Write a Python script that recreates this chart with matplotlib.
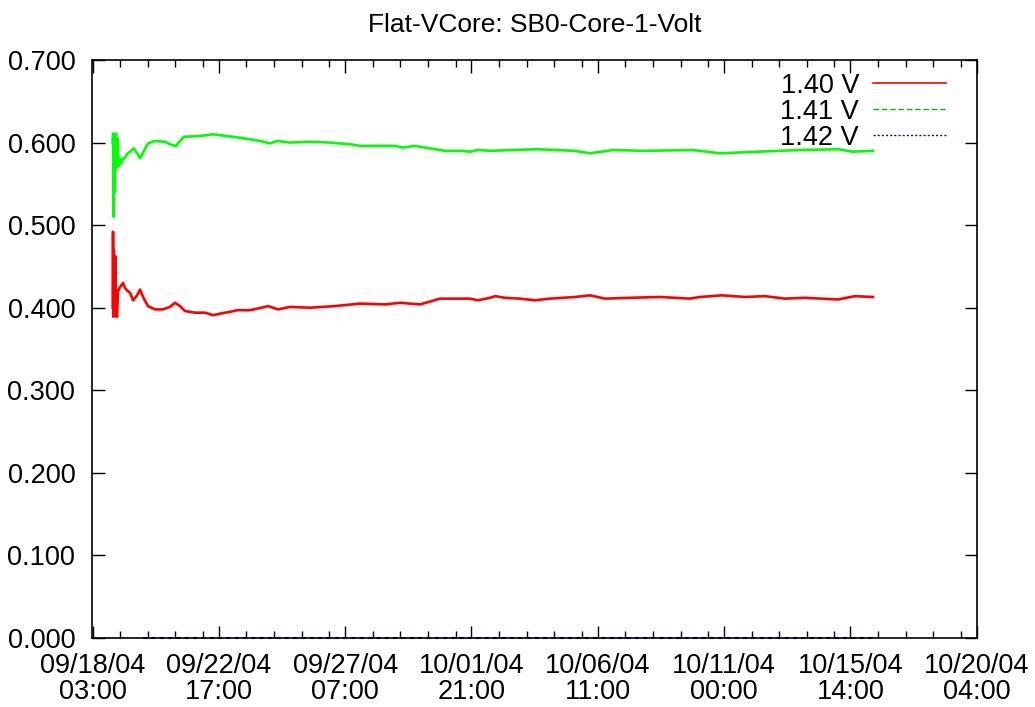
import datetime as dt
import matplotlib
matplotlib.use("Agg")
import matplotlib.pyplot as plt
import matplotlib.dates as mdates
from matplotlib.lines import Line2D

# ==============================
# Datos (horas desde 09/18/04 03:00)
# ==============================
t0 = dt.datetime(2004, 9, 18, 3, 0)

green_h = [18.0, 18.4, 18.8, 19.3, 19.8, 20.4, 21.0, 21.5, 22.3, 22.8, 23.6, 24.4,
           25.2, 27.0, 28.7, 30.5, 33.1, 35.7, 36.5, 39.2, 41.8, 44.4, 48.7, 54.8,
           63.5, 69.6, 73.1, 76.6, 80.0, 94.0, 105.3, 122.7, 137.5, 146.2, 154.9,
           161.0, 172.3, 189.7, 207.1, 215.8, 224.5, 233.2, 250.6, 263.6, 270.6,
           281.0, 289.7, 307.1, 320.2, 328.9, 335.8, 346.3, 387.2, 420.0, 433.3,
           453.3, 480.0, 522.9, 546.4, 580.0, 616.0, 649.0, 662.1, 679.5]
green_v = [0.600, 0.611, 0.510, 0.590, 0.540, 0.605, 0.611, 0.570, 0.605, 0.585,
           0.572, 0.580, 0.575, 0.580, 0.582, 0.586, 0.589, 0.592, 0.593, 0.587,
           0.581, 0.588, 0.599, 0.602, 0.601, 0.597, 0.596, 0.602, 0.607, 0.608,
           0.610, 0.607, 0.604, 0.602, 0.599, 0.602, 0.600, 0.601, 0.600, 0.599,
           0.598, 0.596, 0.596, 0.596, 0.594, 0.596, 0.594, 0.590, 0.590, 0.589,
           0.591, 0.590, 0.592, 0.590, 0.587, 0.591, 0.590, 0.591, 0.587, 0.589,
           0.591, 0.592, 0.589, 0.590]

red_h = [18.0, 18.3, 18.6, 19.0, 19.5, 20.3, 21.0, 21.8, 22.6, 24.4, 27.0, 28.7,
         30.5, 33.1, 35.7, 39.2, 41.8, 44.4, 48.7, 54.8, 61.8, 67.9, 72.2, 76.6,
         80.9, 89.6, 98.3, 105.3, 115.7, 120.1, 126.2, 137.5, 150.5, 153.1, 161.8,
         172.3, 189.7, 211.4, 233.2, 254.9, 268.0, 285.4, 302.8, 315.8, 328.9,
         335.8, 346.3, 350.6, 359.3, 372.4, 385.4, 398.5, 420.2, 433.3, 446.3,
         468.1, 494.2, 520.3, 529.0, 548.1, 568.1, 585.5, 602.9, 620.3, 649.0,
         663.8, 679.5]
red_v = [0.400, 0.492, 0.389, 0.470, 0.390, 0.462, 0.395, 0.389, 0.420, 0.425,
         0.430, 0.424, 0.421, 0.418, 0.409, 0.415, 0.422, 0.413, 0.402, 0.398,
         0.398, 0.401, 0.406, 0.402, 0.396, 0.394, 0.394, 0.391, 0.394, 0.395,
         0.397, 0.397, 0.401, 0.402, 0.398, 0.401, 0.400, 0.402, 0.405, 0.404,
         0.406, 0.404, 0.411, 0.411, 0.411, 0.409, 0.412, 0.414, 0.412, 0.411,
         0.409, 0.411, 0.413, 0.415, 0.411, 0.412, 0.413, 0.411, 0.413, 0.415,
         0.413, 0.414, 0.411, 0.412, 0.410, 0.414, 0.413]

blue_h = [44.0, 679.5]
blue_v = [0.0, 0.0]

labels = ["1.40 V", "1.41 V", "1.42 V"]
yticks = [0.0, 0.1, 0.2, 0.3, 0.4, 0.5, 0.6, 0.7]

# eje x: marcas cada ~109.9 h
tick_start = t0 + dt.timedelta(minutes=30)
tick_step_h = 109.885


def to_dates(hours):
    return [t0 + dt.timedelta(hours=h) for h in hours]


# ==============================
# Gráfica
# ==============================
plt.rcParams['font.family'] = ['Liberation Sans', 'DejaVu Sans']

fig = plt.figure(figsize=(10.35, 7.07), dpi=100)
ax = fig.add_axes([92 / 1035, 69 / 707, 885 / 1035, 578 / 707])

ax.plot(to_dates(red_h), red_v, color="#ff0000", lw=1.9)
ax.plot(to_dates(green_h), green_v, color="#00ff00", lw=1.9)
ax.plot(to_dates(blue_h), blue_v, color="#0000ff", lw=1.5, ls=(0, (2, 2)),
        clip_on=False, zorder=1)

majors = [tick_start + dt.timedelta(hours=k * tick_step_h) for k in range(8)]
minors = [m + dt.timedelta(hours=24 * j) for m in majors[:-1] for j in range(1, 5)]
ax.set_xlim(t0, t0 + dt.timedelta(hours=770))
ax.set_xticks(majors)
ax.set_xticks(minors, minor=True)
ax.xaxis.set_major_formatter(mdates.DateFormatter("%m/%d/%y\n%H:00"))

ax.set_ylim(0, 0.7)
ax.set_yticks(yticks)
ax.set_yticklabels(["%.3f" % v for v in yticks])

ax.tick_params(which="both", direction="in", top=True, right=True,
               labelsize=19.5, width=1.0, color="black")
ax.tick_params(axis="x", which="major", length=9, pad=11)
ax.tick_params(axis="y", which="major", length=9, pad=12)
ax.tick_params(which="minor", length=5)
for lbl in ax.get_xticklabels():
    lbl.set_linespacing(1.0)
for s in ax.spines.values():
    s.set_linewidth(1.2)
    s.set_zorder(3)

ax.set_title("Flat-VCore: SB0-Core-1-Volt", fontsize=19, pad=20)

handles = [Line2D([], [], color="#ff0000", lw=1.2),
           Line2D([], [], color="#00c000", lw=1.0, ls=(0, (4, 2))),
           Line2D([], [], color="#0000ff", lw=1.0, ls=(0, (1.5, 1.5)))]
ax.legend(handles, labels, loc="upper right", frameon=False, markerfirst=False,
          fontsize=19.5, handlelength=2.7, handletextpad=0.5, labelspacing=0.0,
          borderaxespad=0.2, bbox_to_anchor=(0.983, 1.006))

fig.savefig("out.png", dpi=100)
